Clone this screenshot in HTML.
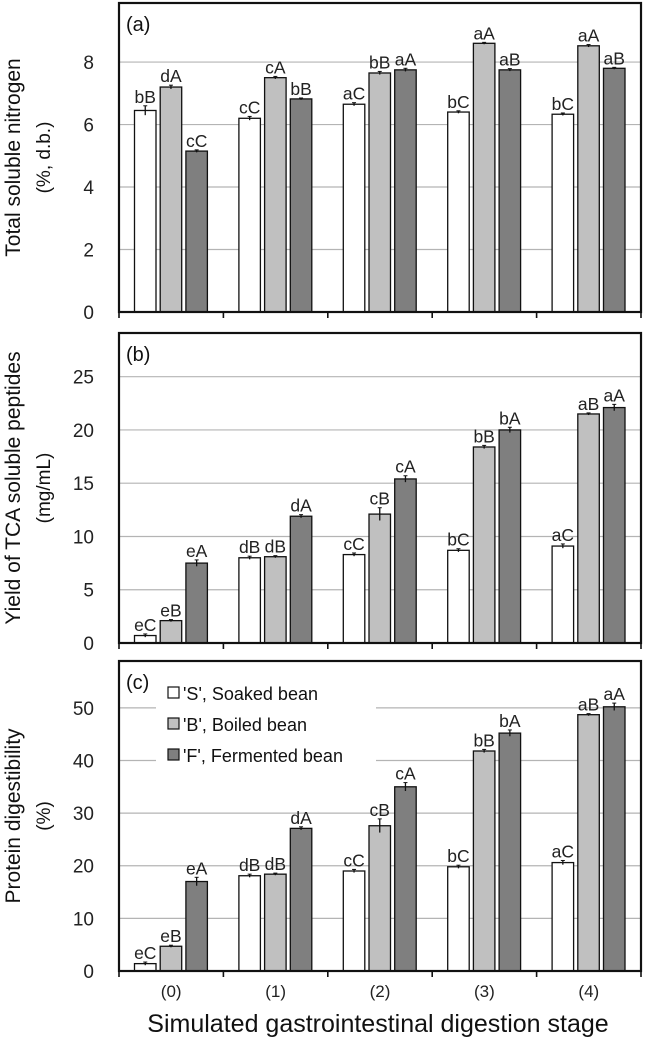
<!DOCTYPE html>
<html><head><meta charset="utf-8"><style>
html,body{margin:0;padding:0;background:#fff;}
svg{display:block;font-family:"Liberation Sans",Arial,sans-serif;}
</style></head><body>
<svg id="chart" width="645" height="1041" viewBox="0 0 645 1041"></svg>
<script>
const categories = ["(0)","(1)","(2)","(3)","(4)"];
const seriesNames = ["'S', Soaked bean","'B', Boiled bean","'F', Fermented bean"];
// panel a: total soluble nitrogen
const aS = [6.45, 6.2, 6.65, 6.4, 6.33];
const aB = [7.2, 7.5, 7.65, 8.6, 8.52];
const aF = [5.15, 6.82, 7.75, 7.75, 7.8];
const aErrS = [0.15, 0.06, 0.05, 0.04, 0.04];
const aErrB = [0.06, 0.04, 0.05, 0.03, 0.04];
const aErrF = [0.04, 0.03, 0.05, 0.04, 0.03];
const aLabS = ["bB","cC","aC","bC","bC"];
const aLabB = ["dA","cA","bB","aA","aA"];
const aLabF = ["cC","bB","aA","aB","aB"];
const aTicks = [0,2,4,6,8];
// panel b: TCA soluble peptides
const bS = [0.7, 8.0, 8.3, 8.7, 9.1];
const bB = [2.1, 8.1, 12.1, 18.4, 21.5];
const bF = [7.5, 11.9, 15.4, 20.0, 22.1];
const bErrS = [0.15, 0.15, 0.15, 0.15, 0.2];
const bErrB = [0.1, 0.1, 0.6, 0.15, 0.1];
const bErrF = [0.3, 0.15, 0.3, 0.25, 0.3];
const bLabS = ["eC","dB","cC","bC","aC"];
const bLabB = ["eB","dB","cB","bB","aB"];
const bLabF = ["eA","dA","cA","bA","aA"];
const bTicks = [0,5,10,15,20,25];
// panel c: protein digestibility
const cS = [1.4, 18.1, 19.0, 19.8, 20.6];
const cB = [4.7, 18.4, 27.6, 41.8, 48.7];
const cF = [17.0, 27.1, 35.0, 45.2, 50.2];
const cErrS = [0.3, 0.3, 0.3, 0.3, 0.4];
const cErrB = [0.2, 0.2, 1.3, 0.3, 0.2];
const cErrF = [0.8, 0.3, 0.8, 0.6, 0.7];
const cLabS = ["eC","dB","cC","bC","aC"];
const cLabB = ["eB","dB","cB","bB","aB"];
const cLabF = ["eA","dA","cA","bA","aA"];
const cTicks = [0,10,20,30,40,50];

const NS = "http://www.w3.org/2000/svg";
const svg = document.getElementById("chart");
function mk(tag, attrs, parent){ const e=document.createElementNS(NS,tag); for(const k in attrs) e.setAttribute(k,attrs[k]); (parent||svg).appendChild(e); return e; }
const colors = ["#ffffff","#c0c0c0","#7f7f7f"];
const X0 = 119, X1 = 641, groupW = (X1-X0)/categories.length;
function xBar(i, s){ return X0 + i*groupW + 15.5 + s*25.7; }
const barW = 21.5;

function panel(id, top, bottom, ymax, ticks, series, errs, labs, title1, title2, letter){
  const g = mk("g", {});
  
  
  const y = v => bottom - v/ymax*(bottom-top);
  ticks.forEach(t => {
    if (t>0){
      const gl = mk("line",{x1:X0,x2:X1,y1:y(t),y2:y(t),stroke:"#b4b4b4","stroke-width":1.2},g);
      
      
    }
    const tl = mk("text",{x:94,y:y(t)+7,"text-anchor":"end","font-size":19,fill:"#222"},g);
    tl.textContent = t;
    
    
  });
  if (id==="c"){
    const bg = mk("rect",{x:156,y:670,width:220,height:96,fill:"#fff"},g);
    
    
  }
  series.forEach((vals, s) => {
    vals.forEach((v, i) => {
      const x = xBar(i, s);
      const r = mk("rect",{x:x,y:y(v),width:barW,height:bottom-y(v),fill:colors[s],stroke:"#111","stroke-width":1.3},g);
      
      
      const e = errs[s][i], cx = x + barW/2;
      const el = mk("line",{x1:cx,x2:cx,y1:y(v+e),y2:y(v-e),stroke:"#111","stroke-width":1.3},g);
      
      
      const ec = mk("line",{x1:cx-2,x2:cx+2,y1:y(v+e),y2:y(v+e),stroke:"#111","stroke-width":1},g);
      
      
      const lt = mk("text",{x:cx,y:y(v+e)-3,"text-anchor":"middle","font-size":17.5,fill:"#222"},g);
      lt.textContent = labs[s][i];
      
      
    });
  });
  const fr = mk("rect",{x:X0,y:top,width:X1-X0,height:bottom-top,fill:"none",stroke:"#111","stroke-width":2.2},g);
  
  
  for (let k=0;k<=categories.length;k++){
    const tk = mk("line",{x1:X0+k*groupW,x2:X0+k*groupW,y1:bottom,y2:bottom+6,stroke:"#111","stroke-width":1.6},g);
    
    
  }
  const pl = mk("text",{x:126,y:top+28,"font-size":20,fill:"#111"},g);
  pl.textContent = letter;
  
  
  const mid = (top+bottom)/2;
  const t1 = mk("text",{x:0,y:0,"text-anchor":"middle","font-size":21,fill:"#111",transform:`translate(20,${mid}) rotate(-90)`},g);
  t1.textContent = title1;
  
  
  const t2 = mk("text",{x:0,y:0,"text-anchor":"middle","font-size":19,fill:"#111",transform:`translate(50,${mid}) rotate(-90)`},g);
  t2.textContent = title2;
  
  
}

panel("a", 3, 312, 9.89, aTicks, [aS,aB,aF], [aErrS,aErrB,aErrF], [aLabS,aLabB,aLabF], "Total soluble nitrogen", "(%, d.b.)", "(a)");
panel("b", 333, 643, 29.1, bTicks, [bS,bB,bF], [bErrS,bErrB,bErrF], [bLabS,bLabB,bLabF], "Yield of TCA soluble peptides", "(mg/mL)", "(b)");
panel("c", 661, 971, 58.9, cTicks, [cS,cB,cF], [cErrS,cErrB,cErrF], [cLabS,cLabB,cLabF], "Protein digestibility", "(%)", "(c)");

// legend
seriesNames.forEach((n, s) => {
  const ly = 693 + s*31;
  const sq = mk("rect",{x:168,y:ly-6,width:11,height:11,fill:colors[s],stroke:"#111","stroke-width":1.2});
  
  
  const lt = mk("text",{x:183,y:ly+7,"font-size":18,fill:"#111"});
  lt.textContent = n;
  
  
});
// x labels
categories.forEach((c, i) => {
  const t = mk("text",{x:X0+(i+0.5)*groupW,y:997,"text-anchor":"middle","font-size":17,fill:"#222"});
  t.textContent = c;
  
  
});
const xt = mk("text",{x:378,y:1032,"text-anchor":"middle","font-size":25,fill:"#111"});
xt.textContent = "Simulated gastrointestinal digestion stage";


</script>
</body></html>
